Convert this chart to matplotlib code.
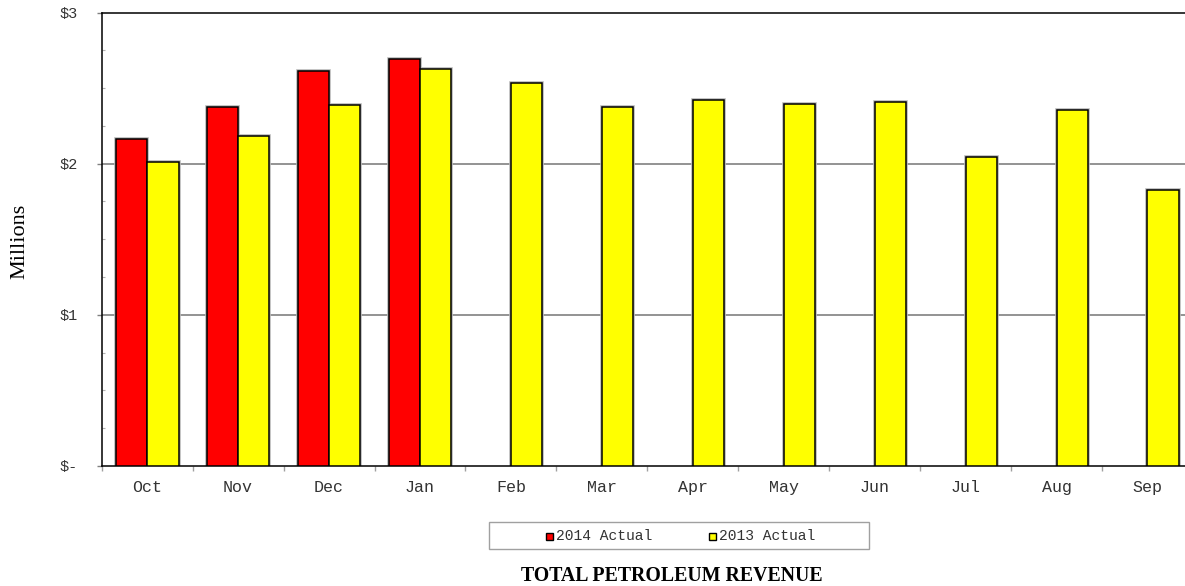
import matplotlib.pyplot as plt
from matplotlib.patches import Rectangle
from matplotlib.ticker import FixedLocator, MultipleLocator
import numpy as np

# monthly revenue, millions of dollars (fiscal year Oct-Sep)
months = ['Oct', 'Nov', 'Dec', 'Jan', 'Feb', 'Mar', 'Apr', 'May', 'Jun', 'Jul', 'Aug', 'Sep']
actual_2014 = [2.166, 2.373, 2.611, 2.691]
actual_2013 = [2.009, 2.186, 2.386, 2.627, 2.532, 2.373, 2.419, 2.393, 2.406, 2.042, 2.353, 1.828]
series_names = ['2014 Actual', '2013 Actual']
series_colors = ['#ff0000', '#ffff00']
ytick_values = [0, 1, 2, 3]
ytick_labels = ['$-', '$1', '$2', '$3']

mono = 'Liberation Mono'
serif = 'Liberation Serif'

fig = plt.figure(figsize=(11.85, 5.86), dpi=100)
# plot area runs past the right edge of the image, like the original
ax = fig.add_axes([101.7 / 1185, 1 - 466 / 586, (1193 - 101.7) / 1185, (466 - 12.5) / 586])

x = np.arange(len(months))
w = 0.345
off = 0.172

#bars: grey halo underneath, black outline on top
for vals, pos, col in [(actual_2014, x[:len(actual_2014)] - off, series_colors[0]),
                       (actual_2013, x + off, series_colors[1])]:
    ax.bar(pos, vals, width=w, color=col, edgecolor='#b8b8b8', linewidth=2.6, zorder=2)
    ax.bar(pos, vals, width=w, color=col, edgecolor='black', linewidth=1.1, zorder=3)

ax.set_xlim(-0.5, len(months) - 0.5)
ax.set_ylim(0, 3)

ax.yaxis.set_major_locator(FixedLocator(ytick_values))
ax.set_yticklabels(ytick_labels, fontfamily=mono, fontsize=11, color='#333333')
ax.yaxis.set_minor_locator(MultipleLocator(0.25))
ax.tick_params(axis='y', which='major', direction='out', length=3.5, width=1, color='#808080', pad=14)
ax.tick_params(axis='y', which='minor', direction='in', length=2.5, width=0.8, color='#b0b0b0')

ax.set_xticks(x)
ax.set_xticklabels(months, fontfamily=mono, fontsize=12, color='#333333')
ax.tick_params(axis='x', which='major', length=0, pad=10)
ax.set_xticks(np.arange(len(months) + 1) - 0.5, minor=True)
ax.tick_params(axis='x', which='minor', direction='out', length=3.5, width=1, color='#a0a0a0')

for v in ytick_values[1:-1]:
    ax.axhline(v, color='#808080', linewidth=1.2, zorder=1)

for s in ['left', 'top', 'bottom']:
    ax.spines[s].set_color('black')
    ax.spines[s].set_linewidth(1.1)
ax.spines['right'].set_visible(False)

fig.text(20 / 1185, 1 - 241 / 586, 'Millions', rotation=90, ha='center', va='center',
         fontfamily=serif, fontsize=16)

#legend box drawn by hand to match the wide frame
fig.patches.append(Rectangle((489.3 / 1185, 1 - 549.3 / 586), (868.7 - 489.3) / 1185, 27 / 586,
                             transform=fig.transFigure, facecolor='white', edgecolor='#a0a0a0',
                             linewidth=1))
for name, col, mx in zip(series_names, series_colors, [546, 709.3]):
    fig.patches.append(Rectangle((mx / 1185, 1 - 540 / 586), 7 / 1185, 7 / 586,
                                 transform=fig.transFigure, facecolor=col, edgecolor='black',
                                 linewidth=1))
    fig.text((mx + 10) / 1185, 1 - 536.5 / 586, name, ha='left', va='center',
             fontfamily=mono, fontsize=10.5, color='#333333')

fig.text(671.5 / 1185, 1 - 576 / 586, 'TOTAL PETROLEUM REVENUE', ha='center', va='center',
         fontfamily=serif, fontsize=14.3, fontweight='bold')

fig.savefig('out.png', dpi=100)
